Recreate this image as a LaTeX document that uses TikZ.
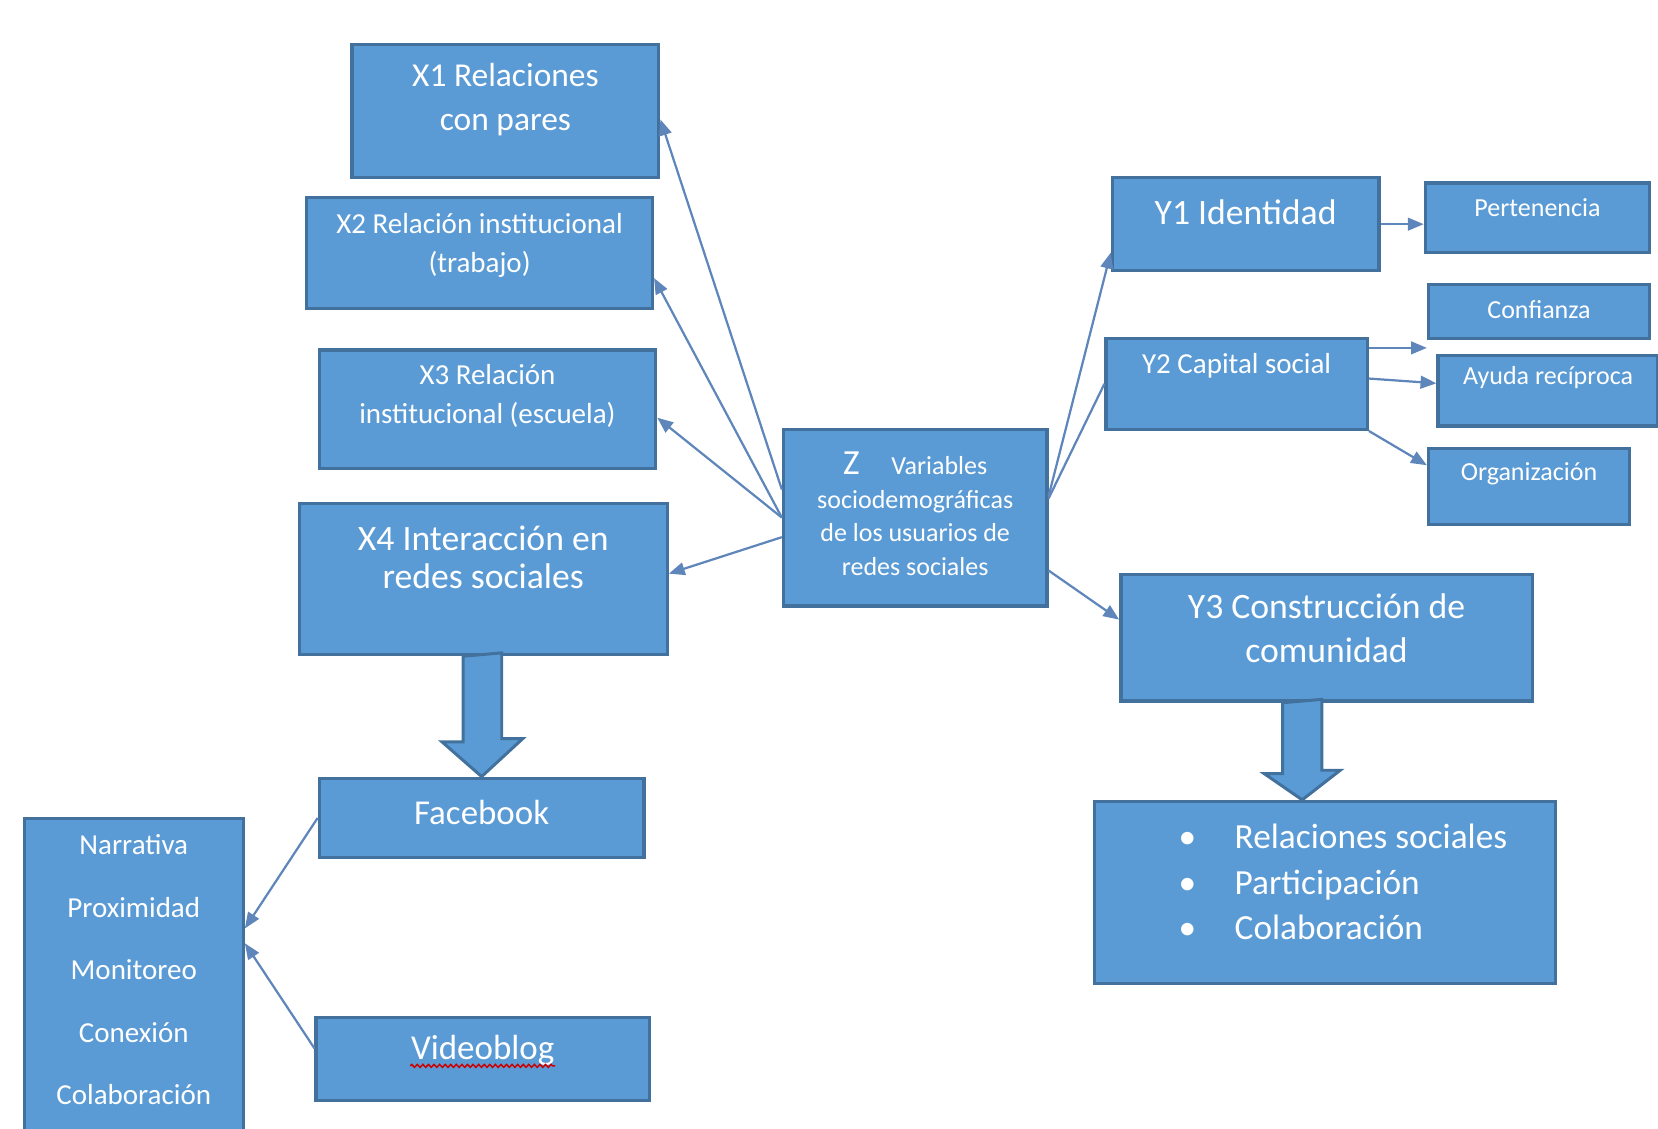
\documentclass[tikz,border=0pt]{standalone}
\usepackage{fontspec}
\setmainfont{Carlito}
\usetikzlibrary{arrows.meta,calc,decorations.pathmorphing}
\definecolor{boxfill}{HTML}{5B9BD5}
\definecolor{boxline}{HTML}{41719C}
\definecolor{linkcol}{HTML}{5E86BA}
\newcommand{\txtsize}[2]{\fontsize{#1}{#2}\selectfont}

\begin{document}
\begin{tikzpicture}[
    box/.style={draw=boxline, fill=boxfill, line width=0.9pt, inner sep=0pt},
    txt/.style={text=white, align=center, inner sep=0pt},
    link/.style={draw=linkcol, line width=0.6pt, -{Triangle[length=0.15cm,width=0.12cm]}},
    fat/.style={draw=boxline, fill=boxfill, line width=0.8pt}]
  \useasboundingbox (0,0) rectangle (15.68,10.67);

  % boxes
  \node[box, minimum width=2.90cm, minimum height=1.26cm] (x1) at (4.78,9.62) {};
  \node[box, minimum width=3.27cm, minimum height=1.05cm] (x2) at (4.535,8.275) {};
  \node[box, minimum width=3.18cm, minimum height=1.12cm] (x3) at (4.61,6.80) {};
  \node[box, minimum width=3.48cm, minimum height=1.43cm] (x4) at (4.57,5.195) {};
  \node[box, minimum width=2.49cm, minimum height=1.67cm] (z) at (8.655,5.775) {};
  \node[box, minimum width=2.52cm, minimum height=0.88cm] (y1) at (11.78,8.55) {};
  \node[box, minimum width=2.12cm, minimum height=0.66cm] (pert) at (14.54,8.61) {};
  \node[box, minimum width=2.09cm, minimum height=0.51cm] (conf) at (14.555,7.725) {};
  \node[box, minimum width=2.47cm, minimum height=0.86cm] (y2) at (11.695,7.04) {};
  \node[box, minimum width=2.08cm, minimum height=0.67cm] (ayuda) at (14.64,6.975) {};
  \node[box, minimum width=1.90cm, minimum height=0.72cm] (org) at (14.46,6.07) {};
  \node[box, minimum width=3.89cm, minimum height=1.20cm] (y3) at (12.545,4.64) {};
  \node[box, minimum width=4.36cm, minimum height=1.72cm] (bul) at (12.53,2.23) {};
  \node[box, minimum width=3.07cm, minimum height=0.75cm] (fb) at (4.555,2.935) {};
  \node[box, minimum width=3.15cm, minimum height=0.79cm] (vb) at (4.565,0.655) {};
  \node[box, minimum width=2.07cm, minimum height=2.98cm] (list) at (1.265,1.44) {};

  % block arrows
  \draw[fat] ($(x4.south)+(-0.19,0)$) -- ++(0,-0.81) -- ++(-0.20,0) -- (fb.north)
    -- ++(0.39,0.36) -- ++(-0.20,0) -- ++(0,0.81) -- cycle;
  \draw[fat] ($(y3.south)+(-0.415,0)$) -- ++(0,-0.67) -- ++(-0.175,0) -- ($(bul.north)+(-0.215,0)$)
    -- ++(0.36,0.28) -- ++(-0.175,0) -- ++(0,0.67) -- cycle;

  % texts
  \node[txt, font=\txtsize{9}{12}] (x1t) at (4.78,9.73) {X1 Relaciones\\con pares};
  \node[txt, font=\txtsize{7.8}{10.5}] (x2t) at (4.535,8.345) {X2 Relación institucional\\(trabajo)};
  \node[txt, font=\txtsize{7.8}{10.5}] (x3t) at (4.61,6.925) {X3 Relación\\institucional (escuela)};
  \node[txt, font=\txtsize{9.6}{10.4}] (x4t) at (4.57,5.40) {X4 Interacción en\\redes sociales};
  \node[txt, font=\txtsize{7}{9}] (zt) at (8.655,5.81)
    {{\txtsize{9.5}{9}Z}\hspace{0.3cm}Variables\\sociodemográficas\\de los usuarios de\\redes sociales};
  \node[txt, font=\txtsize{9.6}{12}] (y1t) at (11.78,8.66) {Y1 Identidad};
  \node[txt, font=\txtsize{7}{9}] (pertt) at (14.54,8.71) {Pertenencia};
  \node[txt, font=\txtsize{7}{9}] (conft) at (14.555,7.74) {Confianza};
  \node[txt, font=\txtsize{7.8}{10}] (y2t) at (11.695,7.21) {Y2 Capital social};
  \node[txt, font=\txtsize{7}{9}] (ayudat) at (14.64,7.10) {Ayuda recíproca};
  \node[txt, font=\txtsize{7}{9}] (orgt) at (14.46,6.19) {Organización};
  \node[txt, font=\txtsize{9.6}{12}] (y3t) at (12.545,4.73) {Y3 Construcción de\\comunidad};
  \node[txt, align=left, anchor=west, font=\txtsize{9.5}{12.2}] (bult) at (11.14,2.33)
    {\makebox[0.53cm][l]{\textbullet}Relaciones sociales\\
     \makebox[0.53cm][l]{\textbullet}Participación\\
     \makebox[0.53cm][l]{\textbullet}Colaboración};
  \node[txt, font=\txtsize{9.4}{12}] (fbt) at (4.555,2.99) {Facebook};
  \node[txt, font=\txtsize{9.4}{12}] (vbt) at (4.565,0.74) {Videoblog};
  \draw[red!80!black, decorate, decoration={zigzag, segment length=1.5pt, amplitude=0.4pt}]
    (vbt.south west) -- (vbt.south east);
  \node[txt, font=\txtsize{7.8}{16.8}] (listt) at (1.265,1.50)
    {Narrativa\\Proximidad\\Monitoreo\\Conexión\\Colaboración};

  % connectors
  \foreach \n/\a/\b in {x1/0.265/-0.08, x2/0/-0.235, x3/0/-0.08, x4/-0.185/0.05}
    \draw[link] ([yshift=\a cm]z.west) -- ([yshift=\b cm]\n.east);
  \draw[link] ([yshift=0.20cm]z.east) -- ([yshift=-0.27cm]y1.west);
  \draw[link, -] ([yshift=0.18cm]z.east) -- (y2.west);
  \draw[link] ([yshift=-0.50cm]z.east) -- ([yshift=0.17cm]y3.west);
  \draw[link] (y1.east) -- (y1.east -| pert.west);
  \draw[link] ([yshift=0.34cm]y2.east) -- ([yshift=0.34cm]y2.east -| conf.west);
  \draw[link] ([yshift=0.05cm]y2.east) -- ([yshift=0.07cm]ayuda.west);
  \draw[link] (y2.south east) -- ([yshift=0.20cm]org.west);
  \draw[link] (fb.west) -- ([yshift=0.45cm]list.east);
  \draw[link] ([yshift=0.10cm]vb.west) -- ([yshift=0.31cm]list.east);
\end{tikzpicture}
\end{document}
